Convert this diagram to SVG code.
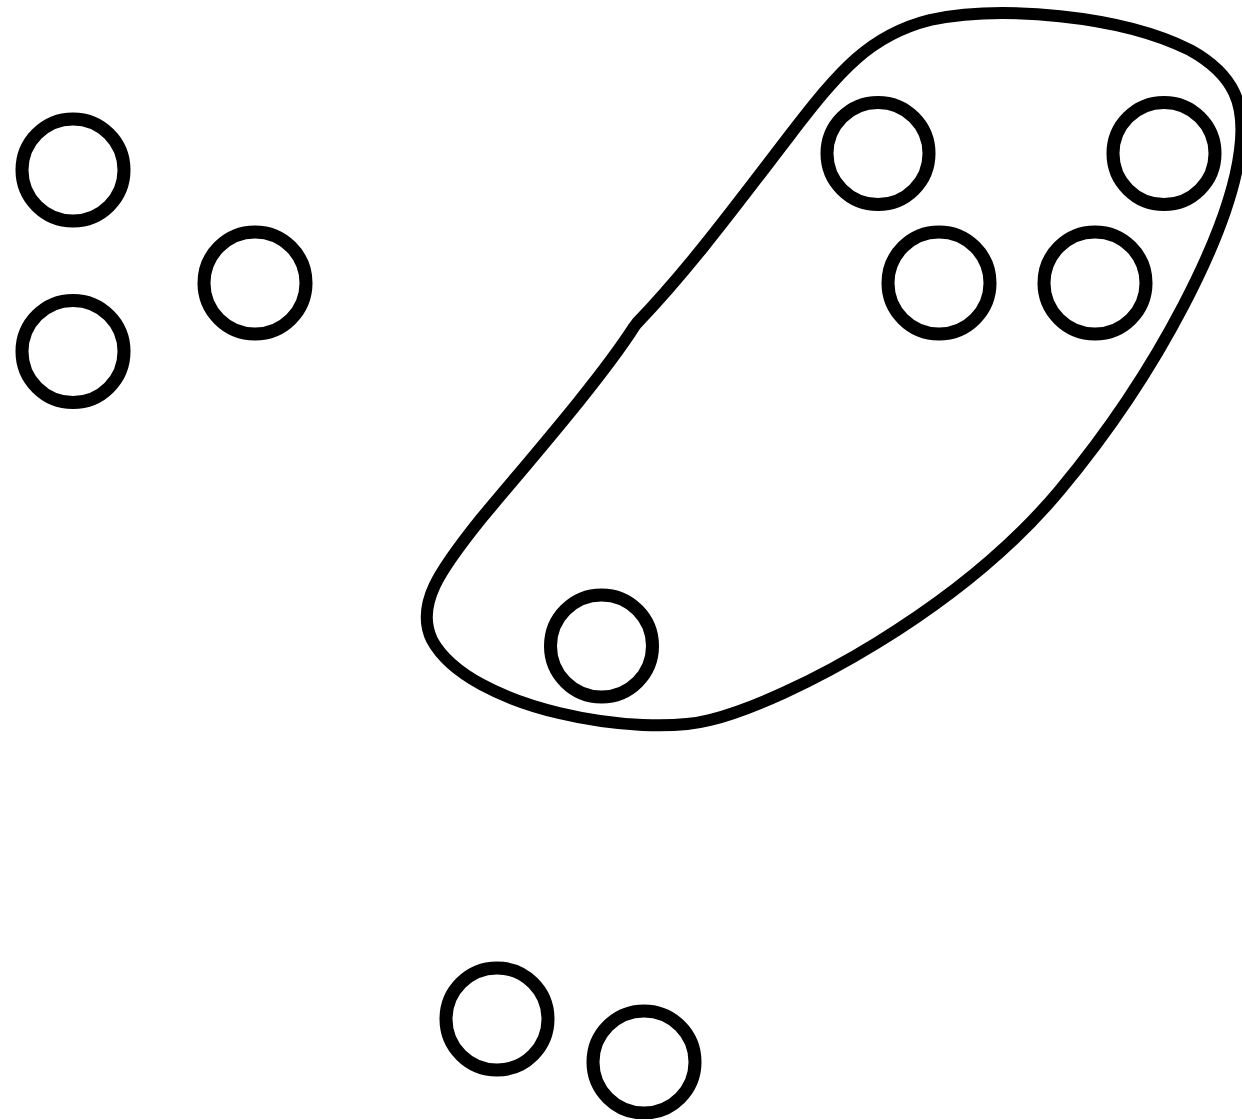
<svg xmlns="http://www.w3.org/2000/svg" width="1242" height="1119" viewBox="0 0 1242 1119">
<style>
.n{fill:#fff;stroke:#000;stroke-width:13}
.b{fill:none;stroke:#000;stroke-width:12;stroke-linejoin:round}
</style>
<rect width="1242" height="1119" fill="#fff"/>
<g id="group">
<path class="b" d="M 637,323 C 690,268 740,200 790,135 C 840,70 870,35 930,20 C 1000,5 1120,15 1190,50 C 1235,75 1246,105 1240,150 C 1230,230 1160,370 1060,490 C 960,610 790,700 710,720 C 640,738 470,710 432,640 C 415,605 440,570 480,520 C 530,460 600,380 634,327 Z"/>
</g>
<g id="connectors"></g>
<g id="n1"><circle class="n" cx="73" cy="170" r="51"/></g>
<g id="n2"><circle class="n" cx="73" cy="351.5" r="51"/></g>
<g id="n3"><circle class="n" cx="255" cy="283" r="51"/></g>
<g id="n4"><circle class="n" cx="878" cy="153.5" r="51"/></g>
<g id="n5"><circle class="n" cx="1164" cy="153.5" r="51"/></g>
<g id="n6"><circle class="n" cx="939" cy="283" r="51"/></g>
<g id="n7"><circle class="n" cx="1095" cy="283" r="51"/></g>
<g id="n8"><circle class="n" cx="601.5" cy="646" r="51"/></g>
<g id="n9"><circle class="n" cx="497" cy="1019" r="51"/></g>
<g id="n10"><circle class="n" cx="644" cy="1062" r="51"/></g>
</svg>
